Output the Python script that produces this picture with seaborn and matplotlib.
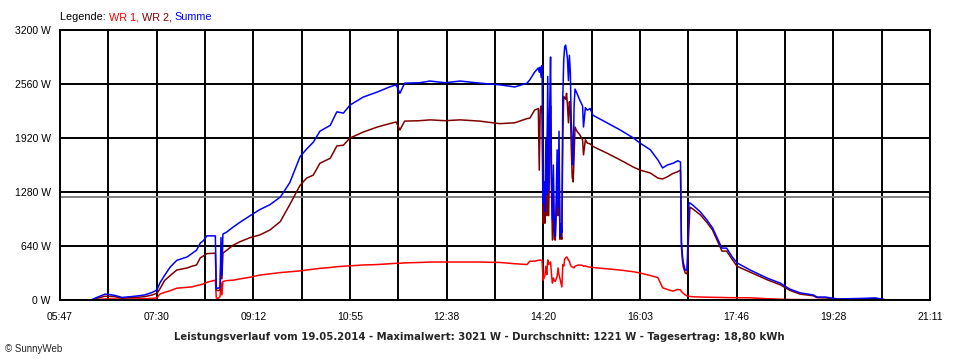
import numpy as np
import pandas as pd
import matplotlib
matplotlib.use("Agg")
import matplotlib.pyplot as plt
import seaborn as sns

RED = "#ff0000"
DARKRED = "#800000"
BLUE = "#0000ff"
GRID = "#000000"

# times of the samples
TIMES = [
    "06:21", "06:26", "06:35", "06:45", "06:53", "06:58", "07:07", "07:17", "07:25", "07:30",
    "07:33", "07:38", "07:44", "07:51", "08:02", "08:07", "08:12", "08:16", "08:19", "08:23",
    "08:32", "08:33", "08:35", "08:37", "08:38", "08:39", "08:40", "08:44", "08:51", "08:58",
    "09:09", "09:19", "09:30", "09:41", "09:51", "10:02", "10:09", "10:16", "10:23", "10:34",
    "10:41", "10:48", "10:55", "11:09", "11:24", "11:37", "11:44", "11:48", "11:53", "12:09",
    "12:20", "12:36", "12:52", "13:13", "13:34", "13:50", "14:03", "14:06", "14:11",
    "14:15", "14:16", "14:17", "14:18", "14:19", "14:20", "14:21", "14:22", "14:23", "14:24",
    "14:25", "14:26", "14:27", "14:28", "14:29", "14:30", "14:31", "14:32", "14:33", "14:34",
    "14:35", "14:36", "14:37", "14:38", "14:39", "14:40", "14:41", "14:42", "14:43", "14:44",
    "14:45", "14:46", "14:47", "14:48", "14:49", "14:50", "14:51", "14:52", "14:53", "14:54",
    "14:56", "14:59", "15:02", "15:03", "15:05", "15:07", "15:10", "15:13", "15:28", "15:42",
    "15:56", "16:03", "16:14", "16:22", "16:27", "16:32", "16:38", "16:43", "16:46", "16:47",
    "16:48", "16:49", "16:51", "16:53", "16:55", "16:56", "16:59", "17:07", "17:14", "17:20",
    "17:26", "17:30", "17:35", "17:41", "17:46", "18:00", "18:18", "18:32", "18:42", "18:53",
    "19:07", "19:11", "19:20", "19:33", "19:46", "20:02", "20:13", "20:25",
]

SUMME = [
    5, 30, 70, 55, 30, 35, 45, 60, 90, 120,
    200, 290, 390, 470, 510, 550, 590, 675, 700, 760,
    760, 140, 140, 150, 740, 300, 780, 805, 865, 920,
    1000, 1070, 1130, 1220, 1390, 1700, 1790, 1870, 2000, 2070,
    2230, 2215, 2310, 2405, 2465, 2525, 2550, 2450, 2570, 2575,
    2595, 2575, 2595, 2570, 2550, 2525, 2570, 2610, 2700,
    2750, 2700, 2760, 2640, 2780, 1150, 1400, 1050, 1900, 1250,
    2650, 1300, 2200, 2880, 1500, 950, 1600, 850, 750, 1200,
    1780, 1100, 2000, 750, 900, 800, 2400, 2845, 3000, 3021,
    2950, 2850, 2600, 2900, 2700, 2100, 1900, 1600, 2300, 2500,
    2450, 2370, 2300, 2050, 2280, 2250, 2270, 2190, 2100, 2015,
    1920, 1860, 1780, 1660, 1565, 1600, 1620, 1650, 1635, 690,
    535, 440, 355, 355, 1150, 1150, 1125, 1045, 950, 855,
    710, 615, 615, 510, 440, 355, 260, 200, 130, 85,
    60, 35, 35, 12, 15, 20, 25, 0,
]

WR2 = [
    3, 20, 45, 40, 20, 25, 30, 40, 60, 80,
    130, 230, 290, 355, 380, 400, 415, 500, 520, 550,
    555, 120, 110, 120, 520, 250, 555, 590, 650, 690,
    740, 770, 830, 930, 1130, 1360, 1445, 1480, 1620, 1680,
    1825, 1835, 1920, 1990, 2050, 2090, 2110, 2015, 2120, 2125,
    2135, 2125, 2135, 2120, 2090, 2100, 2150, 2155, 2250,
    2270, 1540, 2250, 2300, 2200, 910, 1100, 910, 1500, 1000,
    2150, 1000, 1800, 2300, 1300, 710, 1200, 720, 710, 1000,
    1300, 1000, 1600, 720, 780, 720, 1950, 2410, 2400, 2380,
    2450, 2300, 2100, 2350, 2250, 1800, 1460, 1400, 1700, 2050,
    2000, 1960, 1900, 1720, 1900, 1860, 1850, 1820, 1740, 1660,
    1575, 1540, 1505, 1445, 1435, 1460, 1500, 1520, 1540, 630,
    480, 390, 320, 310, 865, 1100, 1080, 1010, 920, 830,
    680, 580, 580, 480, 400, 330, 240, 180, 115, 70,
    50, 28, 25, 8, 10, 12, 15, 0,
]

WR1 = [
    0, 5, 12, 12, 8, 10, 12, 15, 20, 25,
    70, 90, 110, 140, 150, 155, 170, 180, 190, 210,
    235, 25, 20, 40, 210, 60, 220, 230, 235, 250,
    270, 295, 310, 325, 335, 345, 355, 365, 375, 385,
    395, 400, 405, 415, 420, 430, 435, 435, 440, 445,
    450, 450, 450, 450, 445, 430, 420, 460, 460,
    470, 470, 475, 470, 470, 235, 260, 290, 400, 300,
    475, 420, 440, 450, 300, 200, 260, 230, 220, 250,
    280, 380, 300, 250, 200, 155, 420, 400, 480, 500,
    510, 500, 470, 460, 420, 400, 390, 390, 380, 400,
    410, 415, 410, 400, 405, 395, 390, 385, 370, 355,
    335, 320, 290, 265, 145, 125, 105, 125, 120, 100,
    90, 80, 60, 50, 45, 42, 38, 35, 33, 32,
    30, 30, 28, 28, 27, 26, 15, 10, 6, 5,
    5, 4, 4, 3, 3, 3, 3, 0,
]

X_LABELS = ["05:47", "07:30", "09:12", "10:55", "12:38",
            "14:20", "16:03", "17:46", "19:28", "21:11"]
Y_TICKS = [0, 640, 1280, 1920, 2560, 3200]
AVERAGE = 1221

TITLE = ("Leistungsverlauf vom 19.05.2014 - Maximalwert: 3021 W - "
         "Durchschnitt: 1221 W - Tagesertrag: 18,80 kWh")


def to_min(s):
    h, m = s.split(":")
    return int(h) * 60 + int(m)


minutes = [to_min(t) for t in TIMES]
df = pd.concat([
    pd.DataFrame({"min": minutes, "W": WR1, "serie": "WR 1"}),
    pd.DataFrame({"min": minutes, "W": WR2, "serie": "WR 2"}),
    pd.DataFrame({"min": minutes, "W": SUMME, "serie": "Summe"}),
])

sns.set_style("white")
plt.rcParams["font.family"] = ["Liberation Sans", "DejaVu Sans"]

fig = plt.figure(figsize=(9.6, 3.6), dpi=100)
fig.patch.set_facecolor("white")
ax = fig.add_axes([60 / 960, 60 / 360, 870 / 960, 270 / 360])

sns.lineplot(data=df, x="min", y="W", hue="serie", ax=ax,
             palette={"WR 1": RED, "WR 2": DARKRED, "Summe": BLUE},
             hue_order=["WR 1", "WR 2", "Summe"],
             estimator=None, sort=False, legend=False, linewidth=1.1)

x0, x1 = to_min(X_LABELS[0]), to_min(X_LABELS[-1])
major = np.linspace(x0, x1, len(X_LABELS))
minor = (major[:-1] + major[1:]) / 2
ax.set_xlim(x0, x1)
ax.set_ylim(Y_TICKS[0], Y_TICKS[-1])
ax.set_xticks(major)
ax.set_xticklabels(X_LABELS)
ax.set_xticks(minor, minor=True)
ax.set_yticks(Y_TICKS)
ax.set_yticklabels([f"{v} W" for v in Y_TICKS])
ax.set_xlabel("")
ax.set_ylabel("")

ax.grid(True, which="both", axis="x", color=GRID, linewidth=1.4)
ax.grid(True, which="major", axis="y", color=GRID, linewidth=1.4)
ax.set_axisbelow(True)
ax.axhline(AVERAGE, color="#808080", linewidth=1.4, zorder=1)

ax.tick_params(axis="both", which="both", direction="out", length=3.6,
               width=1.4, color=GRID, labelsize=7.5, labelcolor="black")
ax.tick_params(axis="x", which="both", pad=5)
ax.tick_params(axis="y", pad=3)
for spine in ax.spines.values():
    spine.set_visible(True)
    spine.set_edgecolor(GRID)
    spine.set_linewidth(1.4)

fig.text(479.5 / 960, (360 - 337) / 360, TITLE, ha="center", va="center",
         fontsize=7.25, fontweight="bold", family="DejaVu Sans")
fig.text(5 / 960, (360 - 349) / 360, "\u00a9 SunnyWeb", ha="left", va="center",
         fontsize=7)

# legend line at the top, coloured word by word
renderer = fig.canvas.get_renderer()
xpos = 60 / 960
for part, col in [("Legende: ", "black"), ("WR 1, ", RED),
                  ("WR 2, ", DARKRED), ("Summe", BLUE)]:
    t = fig.text(xpos, (360 - 17) / 360, part, ha="left", va="center",
                 fontsize=7.8, color=col)
    bb = t.get_window_extent(renderer)
    xpos += bb.width / fig.bbox.width

fig.savefig("out.png", dpi=100, facecolor="white")
plt.close()
